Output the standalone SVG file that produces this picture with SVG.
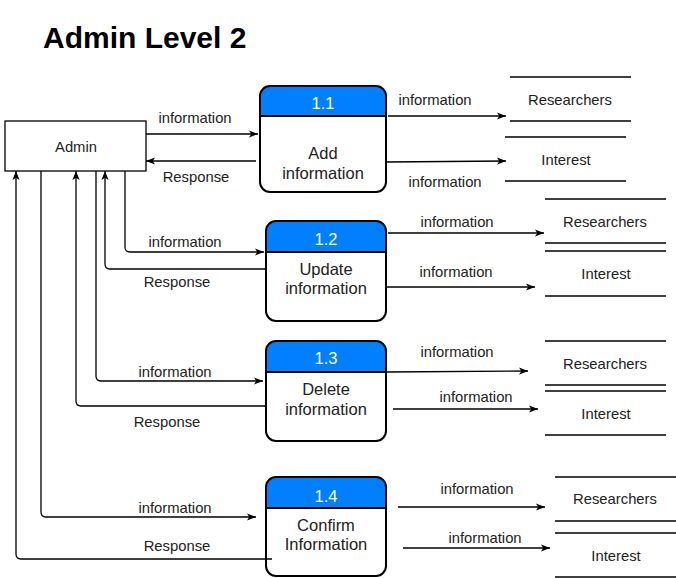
<svg xmlns="http://www.w3.org/2000/svg" width="676" height="578" viewBox="0 0 676 578">
<defs>
<marker id="arr" viewBox="0 0 10 8" refX="10" refY="4" markerWidth="9" markerHeight="7.5" markerUnits="userSpaceOnUse" orient="auto">
<path d="M0,0 L10,4 L0,8 L2.5,4 Z" fill="#000"/>
</marker>
<style>
text{font-family:"Liberation Sans",Arial,sans-serif;fill:#000}
.lbl{font-size:14.8px;text-anchor:middle;fill:#222}
.nt{font-size:16.5px;text-anchor:middle;fill:#222}
.hd{font-size:16.5px;text-anchor:middle;fill:#fff}
.conn path{fill:none;stroke:#000;stroke-width:1.3}
.box{fill:#fff;stroke:#000;stroke-width:1.3}
.proc{fill:none;stroke:#000;stroke-width:2}
.head{fill:#007FFF}
.store line{stroke:#000;stroke-width:1.3}
</style>
</defs>
<rect width="676" height="578" fill="#fff"/>
<text x="43" y="48" style="font-size:30px;font-weight:bold">Admin Level 2</text>

<g id="admin">
<rect class="box" x="5" y="121" width="141" height="50"/>
<text class="lbl" x="76" y="152">Admin</text>
</g>

<g id="p11">
<path class="head" d="M260,116 V96 Q260,86 270,86 H376 Q386,86 386,96 V116 Z"/>
<rect class="proc" x="260" y="86" width="126" height="106" rx="10"/>
<line x1="260" y1="116" x2="386" y2="116" stroke="#000" stroke-width="2"/>
<text class="hd" x="323" y="109">1.1</text>
<text class="nt" x="323" y="159">Add</text>
<text class="nt" x="323" y="179">information</text>
</g>
<g id="p12">
<path class="head" d="M266,252 V231 Q266,221 276,221 H376 Q386,221 386,231 V252 Z"/>
<rect class="proc" x="266" y="221" width="120" height="100" rx="10"/>
<line x1="266" y1="252" x2="386" y2="252" stroke="#000" stroke-width="2"/>
<text class="hd" x="326" y="245">1.2</text>
<text class="nt" x="326" y="275">Update</text>
<text class="nt" x="326" y="294">information</text>
</g>
<g id="p13">
<path class="head" d="M266,372 V351 Q266,341 276,341 H376 Q386,341 386,351 V372 Z"/>
<rect class="proc" x="266" y="341" width="120" height="100" rx="10"/>
<line x1="266" y1="372" x2="386" y2="372" stroke="#000" stroke-width="2"/>
<text class="hd" x="326" y="364">1.3</text>
<text class="nt" x="326" y="395">Delete</text>
<text class="nt" x="326" y="415">information</text>
</g>
<g id="p14">
<path class="head" d="M266,508 V487 Q266,477 276,477 H376 Q386,477 386,487 V508 Z"/>
<rect class="proc" x="266" y="477" width="120" height="99" rx="10"/>
<line x1="266" y1="508" x2="386" y2="508" stroke="#000" stroke-width="2"/>
<text class="hd" x="326" y="502">1.4</text>
<text class="nt" x="326" y="531">Confirm</text>
<text class="nt" x="326" y="550">Information</text>
</g>

<g id="s11r" class="store">
<line x1="510" y1="77" x2="631" y2="77"/><line x1="510" y1="121" x2="631" y2="121"/>
<text class="lbl" x="570" y="105">Researchers</text>
</g>
<g id="s11i" class="store">
<line x1="505" y1="137" x2="626" y2="137"/><line x1="505" y1="181" x2="626" y2="181"/>
<text class="lbl" x="566" y="165">Interest</text>
</g>
<g id="s12r" class="store">
<line x1="545" y1="199" x2="666" y2="199"/><line x1="545" y1="243" x2="666" y2="243"/>
<text class="lbl" x="605" y="227">Researchers</text>
</g>
<g id="s12i" class="store">
<line x1="545" y1="251" x2="666" y2="251"/><line x1="545" y1="296" x2="666" y2="296"/>
<text class="lbl" x="606" y="279">Interest</text>
</g>
<g id="s13r" class="store">
<line x1="545" y1="341" x2="666" y2="341"/><line x1="545" y1="385" x2="666" y2="385"/>
<text class="lbl" x="605" y="369">Researchers</text>
</g>
<g id="s13i" class="store">
<line x1="545" y1="391" x2="666" y2="391"/><line x1="545" y1="435" x2="666" y2="435"/>
<text class="lbl" x="606" y="419">Interest</text>
</g>
<g id="s14r" class="store">
<line x1="555" y1="477" x2="676" y2="477"/><line x1="555" y1="521" x2="676" y2="521"/>
<text class="lbl" x="615" y="504">Researchers</text>
</g>
<g id="s14i" class="store">
<line x1="555" y1="533" x2="676" y2="533"/><line x1="555" y1="577" x2="676" y2="577"/>
<text class="lbl" x="616" y="561">Interest</text>
</g>

<g id="connectors" class="conn">
<path d="M146,134 H258" marker-end="url(#arr)"/>
<path d="M256,161 H146" marker-end="url(#arr)"/>
<path d="M125,171 V247 Q125,252 130,252 H264" marker-end="url(#arr)"/>
<path d="M266,269 H110 Q105,269 105,264 V171" marker-end="url(#arr)"/>
<path d="M96,171 V376 Q96,381 101,381 H263" marker-end="url(#arr)"/>
<path d="M266,406 H81 Q76,406 76,401 V171" marker-end="url(#arr)"/>
<path d="M41,171 V512 Q41,517 46,517 H256" marker-end="url(#arr)"/>
<path d="M272,559 H21 Q16,559 16,554 V171" marker-end="url(#arr)"/>
<path d="M388,116 H506" marker-end="url(#arr)"/>
<path d="M386,162 L506,161" marker-end="url(#arr)"/>
<path d="M388,233 H544" marker-end="url(#arr)"/>
<path d="M386,287 H535" marker-end="url(#arr)"/>
<path d="M386,372 L528,371" marker-end="url(#arr)"/>
<path d="M393,409 H538" marker-end="url(#arr)"/>
<path d="M398,507 L545,507" marker-end="url(#arr)"/>
<path d="M403,548 H550" marker-end="url(#arr)"/>
</g>

<g id="labels">
<text class="lbl" x="195" y="123">information</text>
<text class="lbl" x="196" y="182">Response</text>
<text class="lbl" x="435" y="105">information</text>
<text class="lbl" x="445" y="187">information</text>
<text class="lbl" x="185" y="247">information</text>
<text class="lbl" x="177" y="287">Response</text>
<text class="lbl" x="457" y="227">information</text>
<text class="lbl" x="456" y="277">information</text>
<text class="lbl" x="175" y="377">information</text>
<text class="lbl" x="167" y="427">Response</text>
<text class="lbl" x="457" y="357">information</text>
<text class="lbl" x="476" y="402">information</text>
<text class="lbl" x="175" y="513">information</text>
<text class="lbl" x="177" y="551">Response</text>
<text class="lbl" x="477" y="494">information</text>
<text class="lbl" x="485" y="543">information</text>
</g>
</svg>
